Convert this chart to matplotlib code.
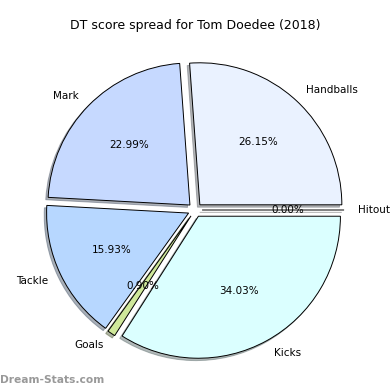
import matplotlib
matplotlib.use("Agg")
import matplotlib.pyplot as plt

# ------------------------
# Data
# ------------------------
categories = ["Handballs", "Mark", "Tackle", "Goals", "Kicks", "Hitout"]
shares = [26.15, 22.99, 15.93, 0.90, 34.03, 0.00]
colors = ["#eaf2ff", "#c6d9ff", "#b7d7ff", "#cfe89a", "#dbffff", "#e0e0e0"]
explode = [0.05] * len(categories)

# ------------------------
# Plot
# ------------------------
fig = plt.figure(figsize=(3.9, 3.9), dpi=100)
ax = fig.add_axes([17.5 / 390, 2.5 / 390, 355 / 390, 355 / 390])

ax.pie(shares, labels=categories, colors=colors, explode=explode,
       autopct="%1.2f%%", startangle=0,
       shadow={"ox": -0.012, "oy": -0.012, "shade": 0.55},
       wedgeprops={"edgecolor": "black", "linewidth": 0.7},
       textprops={"fontsize": 7.5})
ax.set_xlim(-1.25, 1.25)
ax.set_ylim(-1.25, 1.25)

fig.text(0.5, 1 - 25 / 390, "DT score spread for Tom Doedee (2018)",
         ha="center", va="center", fontsize=9)
fig.text(0.001, 1 - 380 / 390, "Dream-Stats.com", ha="left", va="center",
         fontsize=7.7, color="#999999", fontweight="bold")

fig.savefig("out.png", dpi=100)
